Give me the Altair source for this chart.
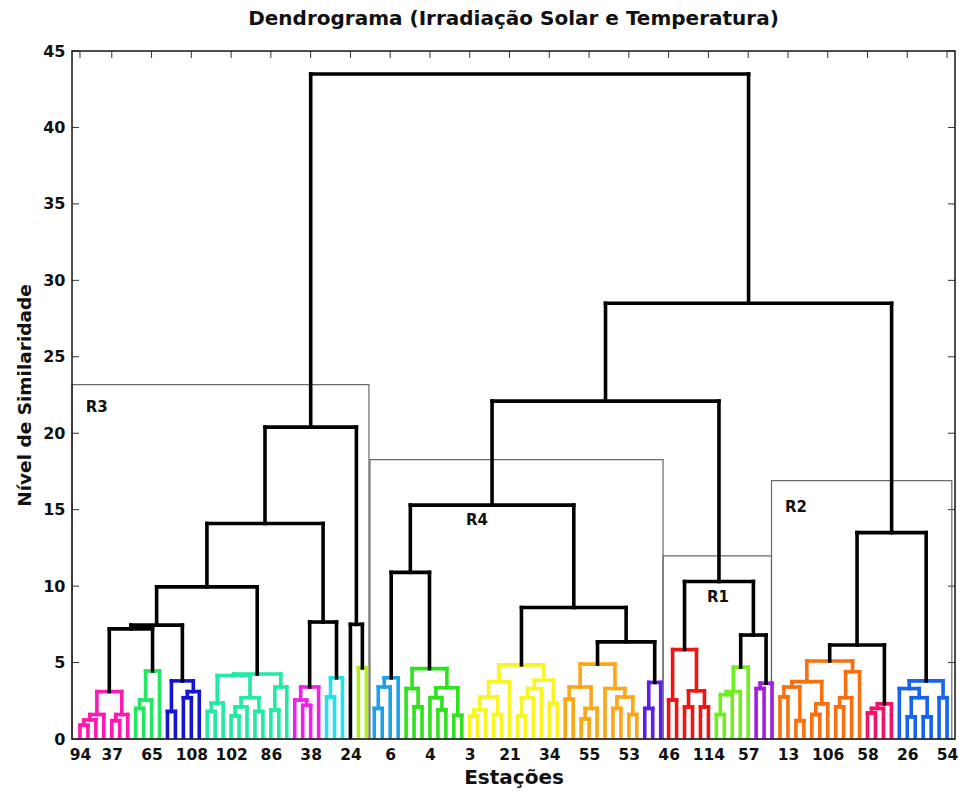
import altair as alt
import pandas as pd

# ---------------- data ----------------
# x-axis: leaf positions (in dendrogram order) that carry a station label
tick_leaf = [1, 5, 10, 15, 20, 25, 30, 35, 40, 45, 50, 55, 60, 65, 70, 75, 80, 85, 90, 95, 100, 105, 110]
tick_station = ["94", "37", "65", "108", "102", "86", "38", "24", "6", "4", "3", "21", "34",
                "55", "53", "46", "114", "57", "13", "106", "58", "26", "54"]
y_ticks = [0, 5, 10, 15, 20, 25, 30, 35, 40, 45]
n_leaves = 110

# tree nodes: [height, left, right]; 0 = a leaf (station), str = a coloured cluster
CLUSTERS = {
    # R3
    "pink":    ("#FF18B4", [3.1, [1.6, [1.25, [0.9, 0, 0], 0], 0], [1.6, [1.2, 0, 0], 0]]),
    "green1":  ("#22E860", [4.45, [2.55, [2.0, 0, 0], 0], 0]),
    "blue1":   ("#1414D2", [3.8, [1.8, 0, 0], [3.1, [2.7, 0, 0], 0]]),
    "teal":    ("#22EAA2", [4.25, [4.15, [2.35, [1.8, 0, 0], 0],
                                  [2.7, [2.1, [1.5, 0, 0], 0], [1.8, 0, 0]]],
                           [3.4, [1.9, 0, 0], 0]]),
    "magenta": ("#F020E6", [3.4, [2.55, 0, [2.2, 0, 0]], 0]),
    "cyan":    ("#22E2F2", [4.0, [2.75, 0, 0], 0]),
    "ygreen":  ("#B4EE22", [4.65, 0, 0]),
    # R4
    "sky":     ("#1EA0EA", [4.0, [3.4, [2.0, 0, 0], 0], 0]),
    "green2":  ("#2EE21E", [4.6, [3.3, 0, [2.1, 0, 0]], [3.35, [2.7, 0, [1.9, 0, 0]], [1.55, 0, 0]]]),
    "yellow":  ("#FAF520", [4.85, [3.75, [2.75, [1.9, [1.5, 0, 0], 0], [1.6, 0, 0]], 0],
                                  [3.85, [3.3, [2.7, [1.5, 0, 0], 0], 0], [2.35, 0, 0]]]),
    "orange1": ("#FFA614", [4.9, [3.4, [2.6, 0, 0], [2.0, [1.3, 0, 0], 0]],
                                 [3.3, 0, [2.75, [2.0, 0, 0], [1.6, 0, 0]]]]),
    "indigo":  ("#5E1EE6", [3.7, [2.0, 0, 0], 0]),
    # R1
    "red":     ("#F01414", [5.85, [2.55, 0, 0], [3.15, [2.1, 0, 0], [2.1, 0, 0]]]),
    "lime":    ("#6EF01E", [4.7, [3.1, [2.9, [1.6, 0, 0], 0], 0], 0]),
    "purple":  ("#A01EE6", [3.65, [3.3, 0, 0], 0]),
    # R2
    "orange2": ("#F8700E", [5.1, [3.75, [3.4, [2.75, 0, 0], [1.2, 0, 0]], [2.3, [1.6, 0, 0], 0]],
                                 [4.4, [2.7, [2.1, 0, 0], 0], 0]]),
    "crimson": ("#F5106C", [2.3, [2.0, [1.7, 0, 0], 0], 0]),
    "blue2":   ("#1464F0", [3.8, [3.3, 0, [2.7, [1.45, 0, 0], [1.45, 0, 0]]], [2.7, 0, 0]]),
}

R3 = [20.4, [14.1, [9.95, [7.45, [7.2, "pink", "green1"], "blue1"], "teal"],
             [7.65, "magenta", "cyan"]],
      [7.5, 0, "ygreen"]]
R4 = [15.3, [10.9, "sky", "green2"], [8.6, "yellow", [6.35, "orange1", "indigo"]]]
R1 = [10.3, "red", [6.8, "lime", "purple"]]
R2 = [13.5, [6.15, "orange2", "crimson"], "blue2"]
ROOT = [43.5, R3, [28.5, [22.1, R4, R1], R2]]

# region boxes (x in leaf units, top in similarity units) and their labels
region_name = ["R3", "R4", "R1", "R2"]
region_x0 = [0.0, 37.46, 74.3, 87.93]
region_x1 = [37.33, 74.3, 87.93, 110.6]
region_top = [23.18, 18.27, 11.98, 16.9]
region_lx = [3.1, 50.9, 81.2, 91.0]
region_ly = [21.7, 14.3, 9.3, 15.2]

# ---------------- build dendrogram segments ----------------
segs = []
counter = [0]


def build(node, color):
    if isinstance(node, str):
        c, sub = CLUSTERS[node]
        return build(sub, c)
    if node == 0:
        counter[0] += 1
        return float(counter[0]), 0.0
    h, left, right = node
    xl, hl = build(left, color)
    xr, hr = build(right, color)
    segs.append(dict(x=xl, x2=xl, y=hl, y2=h, c=color))
    segs.append(dict(x=xr, x2=xr, y=hr, y2=h, c=color))
    segs.append(dict(x=xl, x2=xr, y=h, y2=h, c=color))
    return (xl + xr) / 2, h


build(ROOT, "#000000")
seg_df = pd.DataFrame(segs)

box_df = pd.DataFrame(dict(x=region_x0, x2=region_x1, y=[0] * 4, y2=region_top))
lab_df = pd.DataFrame(dict(x=region_lx, y=region_ly, name=region_name))
xt_df = pd.DataFrame(dict(x=tick_leaf))
yt_df = pd.DataFrame(dict(y=y_ticks))
frame_df = pd.DataFrame(dict(k=[0]))

W, H = 883, 688
FONT = "DejaVu Sans"

xscale = alt.Scale(domain=[0, n_leaves + 1], nice=False, zero=False)
yscale = alt.Scale(domain=[0, 45], nice=False)

label_expr = "[" + ",".join("'%s'" % s for s in tick_station) + "][indexof([" + \
    ",".join(str(v) for v in tick_leaf) + "], datum.value)]"

xaxis = alt.Axis(values=tick_leaf, labelExpr=label_expr, ticks=False, domain=False, grid=False,
                 labelFont=FONT, labelFontSize=15.5, labelFontWeight="bold", labelColor="#111",
                 labelPadding=8, labelFlush=False, labelOverlap=False,
                 title="Estações", titleFont=FONT, titleFontSize=20, titleFontWeight="bold",
                 titleColor="#111", titlePadding=5)
yaxis = alt.Axis(values=y_ticks, ticks=False, domain=False, grid=False,
                 labelFont=FONT, labelFontSize=16, labelFontWeight="bold", labelColor="#111",
                 labelPadding=7, labelFlush=False,
                 title="Nível de Similaridade", titleFont=FONT, titleFontSize=18.5,
                 titleFontWeight="bold", titleColor="#111", titlePadding=8)

X = lambda f="x": alt.X(f"{f}:Q", scale=xscale, axis=xaxis)
Y = lambda f="y": alt.Y(f"{f}:Q", scale=yscale, axis=yaxis)

tick_col = "#333333"
left_ticks = alt.Chart(yt_df).mark_rule(color=tick_col, strokeWidth=1).encode(
    y=Y(), x=alt.value(0), x2=alt.value(7))
right_ticks = alt.Chart(yt_df).mark_rule(color=tick_col, strokeWidth=1).encode(
    y=Y(), x=alt.value(W - 7), x2=alt.value(W))
top_ticks = alt.Chart(xt_df).mark_rule(color=tick_col, strokeWidth=1).encode(
    x=X(), y=alt.value(0), y2=alt.value(7))
bot_ticks = alt.Chart(xt_df).mark_rule(color=tick_col, strokeWidth=1).encode(
    x=X(), y=alt.value(H - 7), y2=alt.value(H))

boxes = alt.Chart(box_df).mark_rect(fillOpacity=0, stroke="#6a6a6a", strokeWidth=1.2).encode(
    x=X(), x2="x2:Q", y=Y(), y2="y2:Q")

dendro = alt.Chart(seg_df).mark_rule(strokeWidth=3.6, strokeCap="square", clip=True).encode(
    x=X(), x2="x2:Q", y=Y(), y2="y2:Q", color=alt.Color("c:N", scale=None))

labels = alt.Chart(lab_df).mark_text(font=FONT, fontSize=15, fontWeight="bold", color="#111",
                                     align="center", baseline="middle").encode(
    x=X(), y=Y(), text="name:N")

frame = alt.Chart(frame_df).mark_rect(fillOpacity=0, stroke="#1a1a1a", strokeWidth=1.5).encode(
    x=alt.value(0), x2=alt.value(W), y=alt.value(0), y2=alt.value(H))

chart = alt.layer(left_ticks, right_ticks, top_ticks, bot_ticks, boxes, dendro, labels, frame).properties(
    width=W, height=H,
    title=alt.TitleParams("Dendrograma (Irradiação Solar e Temperatura)", font=FONT, fontSize=20,
                          fontWeight="bold", color="#111", anchor="middle", offset=14),
    autosize=alt.AutoSizeParams(type="none"),
    padding={"left": 72, "top": 51, "right": 4, "bottom": 55},
).configure_view(stroke=None).configure(background="white")

chart.save("out.html", embed_options={"renderer": "svg", "actions": False})
